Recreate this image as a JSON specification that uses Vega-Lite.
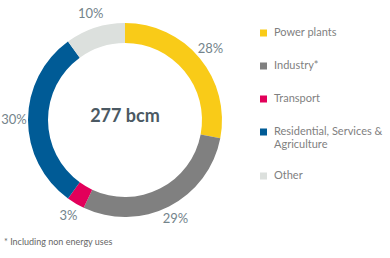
{
  "$schema": "https://vega.github.io/schema/vega-lite/v6.json",
  "width": 250,
  "height": 240,
  "autosize": "pad",
  "padding": 0,
  "background": "white",
  "title": {"text": "* Including non energy uses", "orient": "bottom", "anchor": "start", "frame": "group", "fontSize": 9, "font": "Lato", "fontWeight": "normal", "color": "#666666", "offset": -2, "dx": 4},
  "layer": [
    {
      "data": {"values": [
        {"category": "Power plants", "value": 28, "ord": 1, "label": "28%"},
        {"category": "Industry*", "value": 29, "ord": 2, "label": "29%"},
        {"category": "Transport", "value": 3, "ord": 3, "label": "3%"},
        {"category": "Residential, Services & Agriculture", "value": 30, "ord": 4, "label": "30%"},
        {"category": "Other", "value": 10, "ord": 5, "label": "10%"}
      ]},
      "layer": [
        {
          "mark": {"type": "arc", "outerRadius": 97, "innerRadius": 77},
          "encoding": {
            "theta": {"field": "value", "type": "quantitative", "stack": true},
            "order": {"field": "ord", "type": "quantitative"},
            "color": {
              "field": "category", "type": "nominal",
              "scale": {
                "domain": ["Power plants", "Industry*", "Transport", "Residential, Services & Agriculture", "Other"],
                "range": ["#F9CB18", "#808080", "#E2005A", "#005B96", "#DCE0DD"]
              },
              "legend": {
                "title": null, "orient": "none", "legendX": 258, "legendY": 26,
                "symbolType": "square", "symbolSize": 49, "symbolStrokeWidth": 0, "symbolOpacity": 1,
                "labelFont": "Lato", "labelFontSize": 11, "labelColor": "#7f7f7f",
                "labelOffset": 5, "rowPadding": 19, "labelLimit": 200, "clipHeight": 14,
                "labelExpr": "datum.value == 'Residential, Services & Agriculture' ? ['Residential, Services &', 'Agriculture'] : datum.label"
              }
            }
          }
        },
        {
          "mark": {"type": "text", "radius": 111, "font": "Lato", "fontSize": 13, "color": "#74848b"},
          "encoding": {
            "theta": {"field": "value", "type": "quantitative", "stack": true},
            "order": {"field": "ord", "type": "quantitative"},
            "detail": {"field": "category", "type": "nominal"},
            "text": {"field": "label", "type": "nominal"}
          }
        }
      ]
    },
    {
      "data": {"values": [{"t": "277 bcm"}]},
      "mark": {"type": "text", "font": "Lato", "fontSize": 18, "fontWeight": "bold", "color": "#4b5963", "dy": -3},
      "encoding": {"text": {"field": "t", "type": "nominal"}}
    }
  ]
}
